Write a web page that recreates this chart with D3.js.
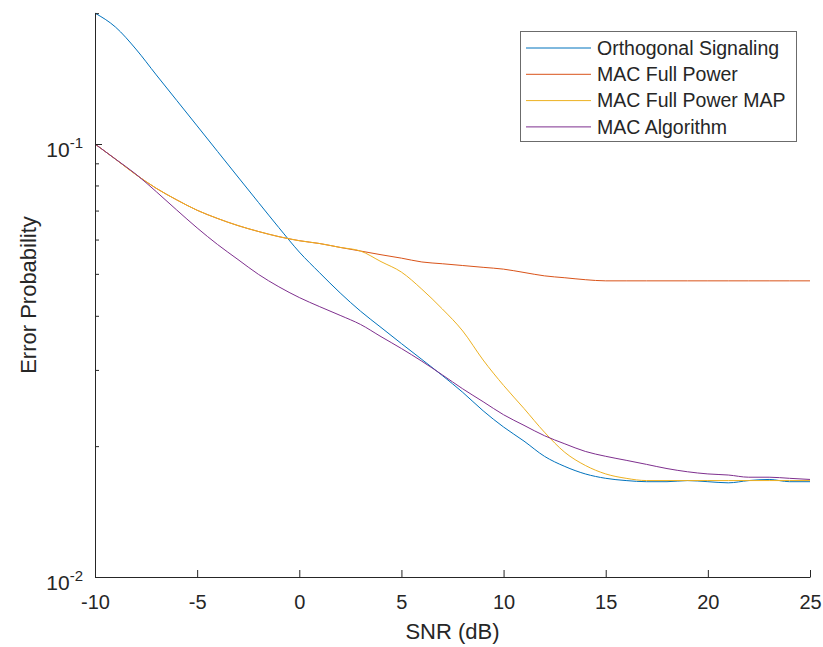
<!DOCTYPE html>
<html>
<head>
<meta charset="utf-8">
<script src="https://cdn.jsdelivr.net/npm/d3@7"></script>
<style>
	body { margin: 0; background: #fff; }
	text { font-family: "Liberation Sans", Arial, sans-serif; fill: #262626; }
</style>
</head>
<body>
<svg id="chart" width="823" height="647"></svg>
<script>
var snr = [-10, -9, -8, -7, -6, -5, -4, -3, -2, -1, 0, 1, 2, 3, 4, 5, 6, 7, 8, 9, 10,
	11, 12, 13, 14, 15, 16, 17, 18, 19, 20, 21, 22, 23, 24, 25];

var orthogonal = [0.2006, 0.1863, 0.1657, 0.1444, 0.1261, 0.1101, 0.0961, 0.0839, 0.0733, 0.0641, 0.0563,
	0.0504, 0.0453, 0.0411, 0.0377, 0.0346, 0.0318, 0.0292, 0.0267, 0.0242, 0.0222,
	0.0206, 0.0190, 0.0180, 0.0173, 0.0169, 0.0167, 0.0166, 0.0166, 0.0167, 0.0166,
	0.0165, 0.0167, 0.0168, 0.0166, 0.0166];

var macFullPower = [0.1000, 0.0923, 0.0850, 0.0790, 0.0743, 0.0703, 0.0673, 0.0648, 0.0628, 0.0611, 0.0598,
	0.0589, 0.0577, 0.0566, 0.0555, 0.0545, 0.0534, 0.0529, 0.0524, 0.0519, 0.0514,
	0.0505, 0.0496, 0.0491, 0.0486, 0.0483, 0.0483, 0.0483, 0.0483, 0.0483, 0.0483,
	0.0483, 0.0483, 0.0483, 0.0483, 0.0483];

var macFullPowerMap = [0.1000, 0.0923, 0.0850, 0.0790, 0.0743, 0.0703, 0.0673, 0.0648, 0.0628, 0.0611, 0.0598,
	0.0589, 0.0577, 0.0566, 0.0535, 0.0506, 0.0462, 0.0416, 0.0370, 0.0317, 0.0277,
	0.0245, 0.0216, 0.0194, 0.0181, 0.0173, 0.0169, 0.0167, 0.0167, 0.0167, 0.0167,
	0.0167, 0.0167, 0.0167, 0.0167, 0.0167];

var macAlgorithm = [0.1000, 0.0923, 0.0852, 0.0776, 0.0704, 0.0640, 0.0586, 0.0541, 0.0500, 0.0468, 0.0442,
	0.0421, 0.0402, 0.0383, 0.0359, 0.0337, 0.0315, 0.0293, 0.0272, 0.0254, 0.0237,
	0.0224, 0.0212, 0.0203, 0.0195, 0.0190, 0.0186, 0.0182, 0.0178, 0.0175, 0.0173,
	0.0172, 0.0170, 0.0170, 0.0169, 0.0168];

var seriesNames = ["Orthogonal Signaling", "MAC Full Power", "MAC Full Power MAP", "MAC Algorithm"];
var seriesColors = ["#0072BD", "#D95319", "#EDB120", "#7E2F8E"];

var xTicks = [-10, -5, 0, 5, 10, 15, 20, 25];
var yMajorTicks = [0.01, 0.1];
var yMajorLabels = ["-2", "-1"];
var yMinorTicks = [0.02, 0.03, 0.04, 0.05, 0.06, 0.07, 0.08, 0.09, 0.2];

function draw(){
	var svg = d3.select("#chart"),
		pLeft = 95, pRight = 810, pTop = 13, pBottom = 577;

	var x = d3.scaleLinear().domain([-10, 25]).range([pLeft, pRight]);
	var y = d3.scaleLog().domain([0.01, 0.2007]).range([pBottom, pTop]);

	var allSeries = [orthogonal, macFullPower, macFullPowerMap, macAlgorithm];

	// lines, in plot order so later ones sit on top
	var line = d3.line()
		.curve(d3.curveMonotoneX)
		.x(function(d, i){ return x(snr[i]); })
		.y(function(d){ return y(d); });

	svg.append("g")
		.selectAll("path")
		.data(allSeries)
		.enter().append("path")
		.attr("d", line)
		.attr("fill", "none")
		.attr("stroke", function(d, i){ return seriesColors[i]; })
		.attr("stroke-width", 1)
		.attr("stroke-linejoin", "round");

	// x axis, ticks pointing in
	var xAxis = svg.append("g")
		.attr("transform", "translate(0," + pBottom + ")")
		.call(d3.axisBottom(x).tickValues(xTicks).tickSize(-7).tickSizeOuter(0)
			.tickFormat(function(d){ return String(d); }));

	// y axis with major and minor ticks
	var yAxis = svg.append("g")
		.attr("transform", "translate(" + pLeft + ",0)")
		.call(d3.axisLeft(y).tickValues(yMajorTicks).tickSize(-7).tickSizeOuter(0).tickFormat(""));

	yAxis.selectAll(".minor")
		.data(yMinorTicks.filter(function(d){ return d <= y.domain()[1]; }))
		.enter().append("line")
		.attr("class", "minor")
		.attr("x1", 0).attr("x2", 4)
		.attr("y1", function(d){ return y(d); })
		.attr("y2", function(d){ return y(d); })
		.attr("stroke", "#262626");

	[xAxis, yAxis].forEach(function(a){
		a.select(".domain").attr("stroke", "#262626");
		a.selectAll(".tick line").attr("stroke", "#262626");
	});

	xAxis.selectAll(".tick text")
		.attr("y", 18)
		.attr("dy", "0.71em")
		.attr("fill", "#262626")
		.style("font-size", "20px")
		.style("font-family", "'Liberation Sans', Arial, sans-serif");

	// y tick labels as 10 with a raised exponent
	var yLab = svg.append("g").selectAll("text")
		.data(yMajorTicks)
		.enter().append("text")
		.attr("x", pLeft - 12)
		.attr("y", function(d){ return y(d) + 13; })
		.attr("text-anchor", "end")
		.style("font-size", "21px");
	yLab.append("tspan").text("10");
	yLab.append("tspan")
		.attr("dy", -9)
		.style("font-size", "15px")
		.text(function(d, i){ return yMajorLabels[i]; });

	// axis titles
	svg.append("text")
		.attr("x", (pLeft + pRight) / 2)
		.attr("y", 639)
		.attr("text-anchor", "middle")
		.style("font-size", "22px")
		.text("SNR (dB)");

	svg.append("text")
		.attr("transform", "translate(36," + ((pTop + pBottom) / 2) + ") rotate(-90)")
		.attr("text-anchor", "middle")
		.style("font-size", "22px")
		.text("Error Probability");

	// legend
	var legend = svg.append("g");
	legend.append("rect")
		.attr("x", 520.5).attr("y", 31.5)
		.attr("width", 276).attr("height", 110)
		.attr("fill", "#fff")
		.attr("stroke", "#6b6b6b")
		.attr("stroke-width", 1);

	var rows = legend.selectAll(".row")
		.data(seriesNames)
		.enter().append("g")
		.attr("class", "row")
		.attr("transform", function(d, i){ return "translate(0," + (48 + i * 26.3) + ")"; });

	rows.append("line")
		.attr("x1", 526).attr("x2", 591)
		.attr("stroke", function(d, i){ return seriesColors[i]; })
		.attr("stroke-width", 1);

	rows.append("text")
		.attr("x", 597)
		.attr("dy", "0.35em")
		.style("font-size", "19.5px")
		.text(function(d){ return d; });
}

draw();
</script>
</body>
</html>
